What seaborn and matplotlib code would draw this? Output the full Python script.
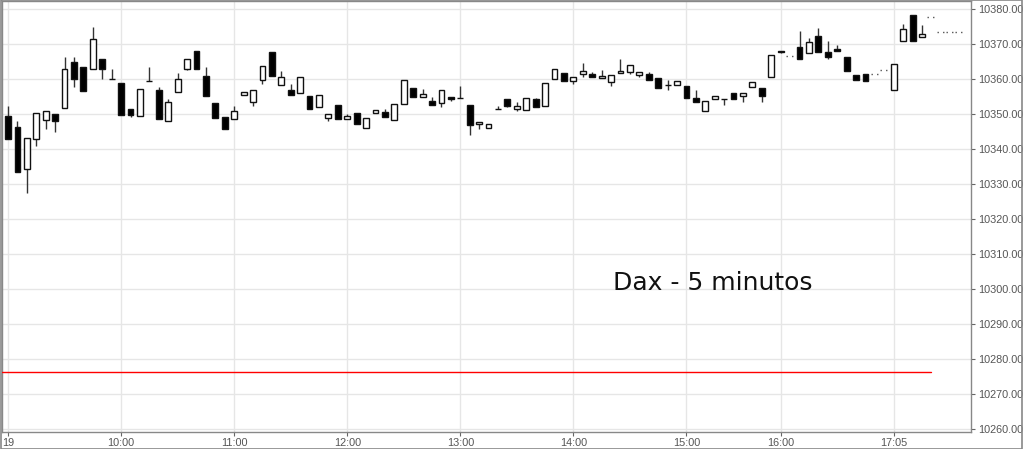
import matplotlib
matplotlib.use("Agg")
import matplotlib.pyplot as plt
import seaborn as sns
import numpy as np
import pandas as pd
from matplotlib.patches import Rectangle

# ---- data (5-minute candles, bar index based) ----
idx = [0, 1, 2, 3, 4, 5, 6, 7, 8, 9, 10, 11, 12, 13, 14, 15, 16, 17, 18, 19,
       20, 21, 22, 23, 24, 25, 26, 27, 28, 29, 30, 31, 32, 33, 34, 35, 36, 37, 38, 39,
       40, 41, 42, 43, 44, 45, 46, 47, 48, 49, 50, 51, 52, 53, 54, 55, 56, 57, 58, 59,
       60, 61, 62, 63, 64, 65, 66, 67, 68, 69, 70, 71, 72, 73, 74, 75, 76, 77, 78, 79,
       80, 81, 82, 84, 85, 86, 87, 88, 89, 90, 91, 94, 95, 96, 97]
opens = [10349.6, 10346.3, 10334.4, 10342.9, 10348.3, 10350.2, 10351.9, 10364.9, 10363.5, 10362.9,
         10365.9, 10360.2, 10359.1, 10351.5, 10349.6, 10359.5, 10357.0, 10348.0, 10356.4, 10362.9,
         10368.2, 10360.9, 10353.3, 10349.1, 10348.6, 10355.6, 10353.4, 10359.7, 10367.7, 10358.3,
         10357.0, 10356.1, 10355.3, 10352.2, 10349.0, 10352.8, 10348.7, 10350.3, 10346.2, 10350.4,
         10350.7, 10348.4, 10353.1, 10357.4, 10354.9, 10353.8, 10353.2, 10355.0, 10354.6, 10352.8,
         10347.1, 10346.2, 10351.4, 10354.3, 10351.6, 10351.1, 10354.4, 10352.4, 10360.0, 10361.7,
         10359.4, 10361.6, 10361.4, 10360.5, 10359.2, 10361.7, 10362.2, 10361.3, 10361.5, 10360.3,
         10358.5, 10358.5, 10358.2, 10354.6, 10351.0, 10354.4, 10354.4, 10356.0, 10355.3, 10357.7,
         10357.4, 10360.6, 10368.2, 10369.2, 10367.4, 10372.5, 10367.9, 10368.8, 10366.5, 10361.3,
         10361.6, 10357.0, 10371.0, 10378.3, 10372.1]
highs = [10352.4, 10348.1, 10343.1, 10350.5, 10351.0, 10350.2, 10366.5, 10366.5, 10363.5, 10374.9,
         10365.9, 10363.0, 10359.1, 10351.5, 10357.2, 10363.5, 10357.7, 10354.4, 10361.7, 10365.8,
         10368.2, 10363.5, 10353.3, 10349.1, 10352.4, 10356.5, 10357.0, 10363.7, 10367.7, 10362.4,
         10358.6, 10360.6, 10355.3, 10355.6, 10350.1, 10352.8, 10350.2, 10350.3, 10348.9, 10351.2,
         10351.5, 10353.1, 10359.8, 10357.4, 10357.2, 10354.9, 10357.1, 10355.0, 10358.1, 10352.8,
         10347.7, 10347.1, 10352.4, 10354.3, 10353.6, 10354.8, 10354.6, 10359.1, 10363.1, 10361.7,
         10360.6, 10364.6, 10362.0, 10362.8, 10361.3, 10365.9, 10364.2, 10362.2, 10362.2, 10360.3,
         10359.9, 10359.6, 10358.2, 10357.0, 10353.8, 10355.3, 10354.4, 10356.0, 10356.0, 10359.3,
         10357.4, 10367.1, 10368.2, 10373.8, 10371.9, 10374.6, 10371.0, 10369.7, 10366.5, 10361.3,
         10361.6, 10364.3, 10375.8, 10378.3, 10375.4]
lows = [10343.0, 10333.5, 10327.4, 10341.0, 10345.8, 10345.0, 10351.9, 10357.7, 10356.7, 10362.9,
        10360.0, 10360.2, 10349.8, 10349.3, 10349.6, 10359.5, 10348.6, 10348.0, 10356.4, 10362.6,
        10363.1, 10355.3, 10349.0, 10345.9, 10348.6, 10355.6, 10352.4, 10358.7, 10360.9, 10358.3,
        10355.6, 10356.1, 10351.4, 10352.2, 10348.2, 10348.8, 10348.7, 10347.2, 10346.2, 10350.4,
        10349.3, 10348.4, 10353.1, 10355.0, 10354.9, 10352.7, 10352.2, 10353.8, 10354.6, 10344.1,
        10345.7, 10346.2, 10351.4, 10352.0, 10351.0, 10351.1, 10352.1, 10352.4, 10360.0, 10359.5,
        10358.7, 10360.8, 10360.6, 10360.5, 10358.2, 10361.7, 10361.5, 10360.8, 10359.9, 10357.4,
        10357.0, 10358.5, 10354.8, 10353.4, 10351.0, 10354.4, 10352.7, 10354.3, 10353.6, 10357.7,
        10353.5, 10360.6, 10367.4, 10365.7, 10367.4, 10367.9, 10365.7, 10368.0, 10362.4, 10359.7,
        10359.4, 10357.0, 10371.0, 10371.0, 10372.1]
closes = [10343.0, 10333.5, 10343.1, 10350.5, 10351.0, 10348.2, 10363.0, 10360.0, 10356.7, 10371.4,
          10362.9, 10360.2, 10349.8, 10349.8, 10357.2, 10359.5, 10348.6, 10353.6, 10360.1, 10365.8,
          10363.1, 10355.3, 10349.0, 10345.9, 10350.9, 10356.5, 10357.0, 10363.7, 10360.9, 10360.8,
          10355.6, 10360.6, 10351.4, 10355.6, 10350.1, 10348.8, 10349.6, 10347.2, 10348.9, 10351.2,
          10349.3, 10353.1, 10359.8, 10355.0, 10355.9, 10352.7, 10357.1, 10354.5, 10354.6, 10347.0,
          10347.7, 10347.1, 10351.4, 10352.4, 10352.5, 10354.8, 10352.1, 10359.1, 10363.1, 10359.5,
          10360.6, 10362.4, 10360.6, 10361.1, 10361.3, 10362.3, 10364.2, 10362.2, 10359.9, 10357.4,
          10358.5, 10359.6, 10354.8, 10353.4, 10353.8, 10355.3, 10354.4, 10354.3, 10356.0, 10359.3,
          10355.3, 10367.1, 10367.7, 10365.7, 10370.6, 10367.9, 10366.5, 10368.0, 10362.4, 10359.7,
          10359.4, 10364.3, 10374.3, 10371.0, 10373.0]

# flat (no-trade) bars drawn dotted
flat_idx = [83, 92, 93, 98, 99, 100, 101]
flat_val = [10366.8, 10361.6, 10362.6, 10377.7, 10373.4, 10373.4, 10373.4]

# reference level (red line)
ref_level = 10276.3
ref_start, ref_end = -0.6, 98.0

tick_pos = [0, 12, 24, 36, 48, 60, 72, 82, 94]
tick_labels = ["19", "10:00", "11:00", "12:00", "13:00", "14:00", "15:00", "16:00", "17:05"]
y_ticks = [10260, 10270, 10280, 10290, 10300, 10310, 10320, 10330, 10340, 10350,
           10360, 10370, 10380]
title_text = "Dax - 5 minutos"

df = pd.DataFrame({"i": idx, "open": opens, "high": highs, "low": lows, "close": closes})
df["up"] = df["close"] >= df["open"]
df["bottom"] = df[["open", "close"]].min(axis=1)
df["height"] = (df["close"] - df["open"]).abs()

sns.set_theme(style="whitegrid")
plt.rcParams["font.family"] = ["Liberation Sans", "DejaVu Sans"]

fig = plt.figure(figsize=(10.24, 4.49), dpi=100)
ax = fig.add_axes([2 / 1024, 1 - 432 / 449, (971 - 2) / 1024, (432 - 1) / 449])
ax.set_facecolor("white")

# wicks
ax.vlines(df["i"], df["low"], df["high"], color="#333333", lw=1.0, zorder=2)
# bodies
colors = np.where(df["up"], "white", "black")
ax.bar(df["i"], df["height"], bottom=df["bottom"], width=0.62,
       color=colors, edgecolor="#111111", linewidth=1.0, zorder=3)

# dotted flat bars
ax.hlines(flat_val, np.array(flat_idx) - 0.45, np.array(flat_idx) + 0.45,
          colors="#555555", linestyles=(0, (1, 3)), lw=1.0, zorder=2)

# red reference line
sns.lineplot(x=[ref_start, ref_end], y=[ref_level, ref_level], ax=ax,
             color="#ff0000", lw=1.0, zorder=4)

ax.set_xlim(-0.64, 102.2)
ax.set_ylim(10259.2, 10382.4)

ax.set_xticks(tick_pos)
ax.set_xticklabels(tick_labels)
ax.set_yticks(y_ticks)
ax.set_yticklabels([f"{v:.2f}" for v in y_ticks])
ax.yaxis.tick_right()
ax.tick_params(axis="y", which="both", right=True, left=False, length=3, width=0.8,
               color="#666666", labelsize=7.8, labelcolor="#555555", pad=2)
ax.tick_params(axis="x", which="both", bottom=True, length=3, width=0.8,
               color="#666666", labelsize=7.8, labelcolor="#555555", pad=1)

ax.grid(True, color="#e6e6e6", lw=1.0)
ax.set_axisbelow(True)
for s in ["left", "right", "top", "bottom"]:
    ax.spines[s].set_visible(True)
    ax.spines[s].set_color("#888888")
    ax.spines[s].set_linewidth(1.0)
ax.set_xlabel("")
ax.set_ylabel("")

ax.text(0.734, 0.345, title_text, transform=ax.transAxes, ha="center", va="center",
        fontsize=18, color="#111111", family=["DejaVu Sans"])

fig.patches.append(Rectangle((0.0005, 0.001), 0.998, 0.998, transform=fig.transFigure,
                             fill=False, edgecolor="#888888", lw=1.2))

fig.savefig("out.png", dpi=100, facecolor="white")
